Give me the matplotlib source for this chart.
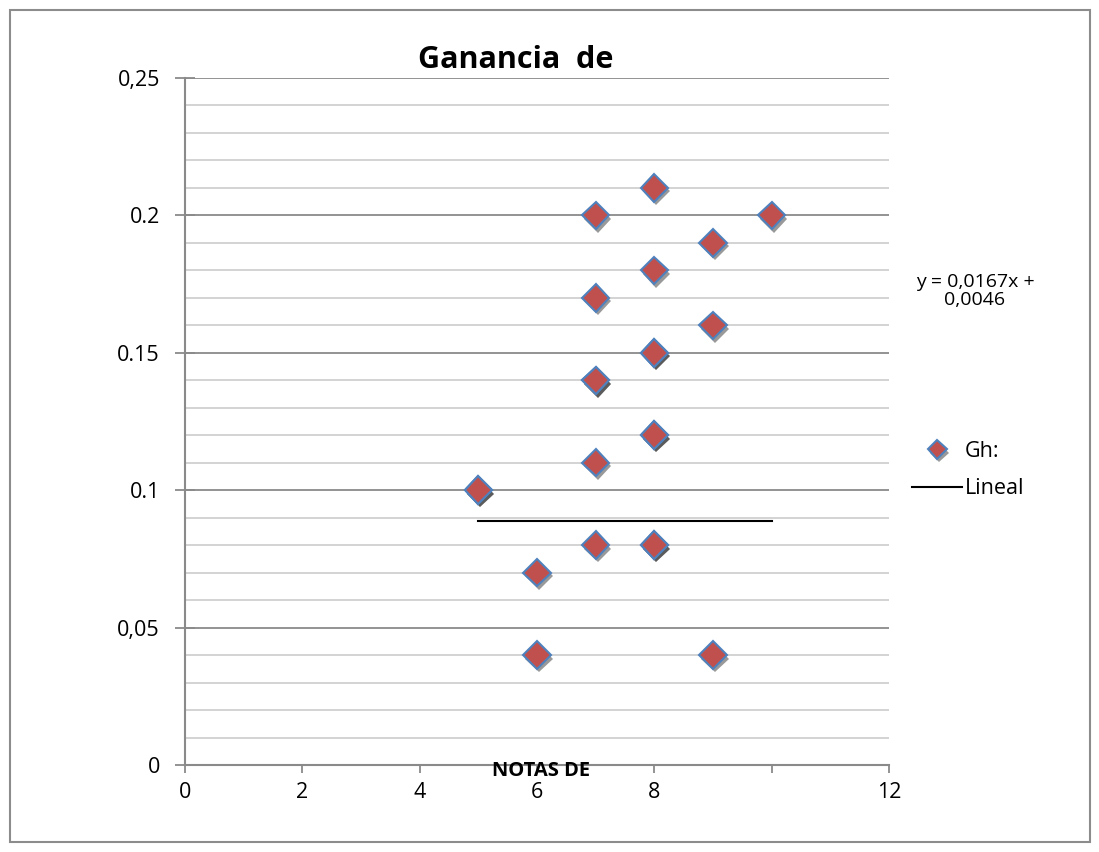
import numpy as np
import matplotlib.pyplot as plt
import matplotlib.patheffects as pe
from matplotlib.patches import Rectangle

plt.rcParams['font.family'] = ['Open Sans', 'DejaVu Sans']

# datos del grafico
notas = [7, 8, 10, 9, 8, 7, 9, 8, 8, 7, 7, 8, 8, 7, 5, 5, 7, 8, 8, 6, 6, 9]
ganancia = [0.20, 0.21, 0.20, 0.19, 0.18, 0.17, 0.16, 0.15, 0.15, 0.14, 0.14,
            0.12, 0.12, 0.11, 0.10, 0.10, 0.08, 0.08, 0.08, 0.07, 0.04, 0.04]
lineal_x = [5, 10]
lineal_y = [0.0888, 0.0888]
xticks = [0, 2, 4, 6, 8, 10, 12]
xlabels = ['0', '2', '4', '6', '8', '', '12']
yticks = [0, 0.05, 0.1, 0.15, 0.2, 0.25]
ylabels = ['0', '0,05', '0.1', '0.15', '0.2', '0,25']

fig = plt.figure(figsize=(10.99, 8.52), dpi=100)
fig.patches.append(Rectangle((10 / 1099, 10 / 852), 1080 / 1099, 832 / 852,
                             transform=fig.transFigure, fill=False,
                             edgecolor='#8c8c8c', lw=1.5))
ax = fig.add_axes([185 / 1099, 1 - 765 / 852, 704 / 1099, 687 / 852])

# rejilla
for v in np.arange(0.01, 0.26, 0.01):
    if abs(v / 0.05 - round(v / 0.05)) < 1e-6:
        ax.axhline(v, color='#8a8a8a', lw=1.3, zorder=1)
    else:
        ax.axhline(v, color='#cccccc', lw=1.2, zorder=1)

sombra = [pe.SimplePatchShadow(offset=(1.5, -2.5), shadow_rgbFace='black', alpha=0.4),
          pe.Normal()]
ax.plot(notas, ganancia, 'D', ms=14, mfc='#C0504D', mec='#4F81BD', mew=1.5,
        zorder=3, label='Gh:', path_effects=sombra)
ax.plot(lineal_x, lineal_y, color='black', lw=1.5, zorder=2, label='Lineal')

ax.set_xlim(0, 12)
ax.set_ylim(0, 0.25)
ax.set_xticks(xticks)
ax.set_xticklabels(xlabels, fontsize=15.5)
ax.set_yticks(yticks)
ax.set_yticklabels(ylabels, fontsize=15.5)
ax.tick_params(axis='x', direction='out', length=6, width=1.3, color='#8a8a8a', pad=6)
ax.tick_params(axis='y', direction='inout', length=14, width=1.3, color='#8a8a8a', pad=11)
for s in ['top', 'right']:
    ax.spines[s].set_visible(False)
for s in ['left', 'bottom']:
    ax.spines[s].set_color('#8a8a8a')
    ax.spines[s].set_linewidth(1.5)

fig.text(516 / 1099, 1 - 60 / 852, 'Ganancia  de', fontsize=22, fontweight='bold',
         ha='center', va='center')
fig.text(541 / 1099, 1 - 771 / 852, 'NOTAS DE', fontsize=14.5, fontweight='bold',
         ha='center', va='center')
fig.text(975 / 1099, 1 - 291 / 852, 'y = 0,0167x +\n0,0046', fontsize=14,
         ha='center', va='center', linespacing=1.05)

ax.legend(loc='center left', bbox_to_anchor=(893 / 1099, 1 - 470 / 852),
          bbox_transform=fig.transFigure, frameon=False, fontsize=15.5,
          handlelength=2.3, handletextpad=0.15, labelspacing=0.75, markerscale=0.7)

fig.savefig('out.png', dpi=100)
